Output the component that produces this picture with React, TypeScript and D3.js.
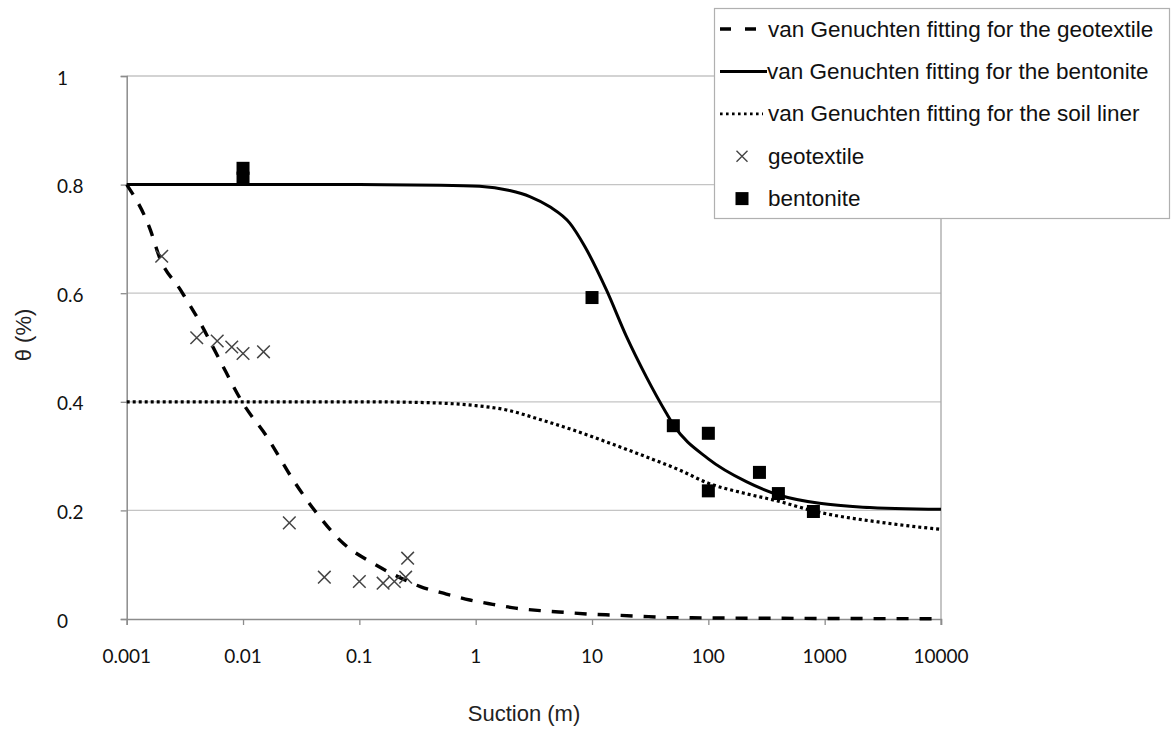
import React, { useEffect, useRef } from "react";
import * as d3 from "d3";

// ---- data ----
const xTicks = [0.001, 0.01, 0.1, 1, 10, 100, 1000, 10000];
const xTickLabels = ["0.001", "0.01", "0.1", "1", "10", "100", "1000", "10000"];
const yTicks = [0, 0.2, 0.4, 0.6, 0.8, 1];
const yTickLabels = ["0", "0.2", "0.4", "0.6", "0.8", "1"];

// geotextile measurements (x markers)
const geoX = [0.002, 0.004, 0.006, 0.008, 0.01, 0.015, 0.025, 0.05, 0.1, 0.16, 0.2, 0.25, 0.26];
const geoY = [0.668, 0.518, 0.512, 0.501, 0.489, 0.492, 0.177, 0.077, 0.069, 0.066, 0.069, 0.077, 0.112];

// bentonite measurements (squares)
const benX = [0.01, 0.01, 10, 50, 100, 100, 275, 400, 800];
const benY = [0.83, 0.812, 0.592, 0.356, 0.342, 0.236, 0.27, 0.231, 0.198];

// van Genuchten fitting curves
const fitGeoX = [0.001, 0.0016, 0.0019, 0.0029, 0.0043, 0.0063, 0.01, 0.016, 0.027, 0.043, 0.073, 0.13, 0.21, 0.33, 0.56, 0.89, 1.4, 2.2, 3.8, 6, 9.5, 16, 26, 44, 100, 1000, 10000];
const fitGeoY = [0.8, 0.716, 0.668, 0.606, 0.545, 0.477, 0.397, 0.336, 0.256, 0.195, 0.139, 0.103, 0.079, 0.06, 0.046, 0.035, 0.027, 0.02, 0.015, 0.012, 0.009, 0.007, 0.005, 0.003, 0.002, 0.001, 0.0005];

const fitBenX = [0.001, 0.01, 0.1, 0.5, 1.08, 1.96, 2.92, 4.34, 6.44, 8.67, 13.3, 19.8, 29.3, 43.6, 50, 100, 212, 410, 904, 2130, 10000];
const fitBenY = [0.8, 0.8, 0.8, 0.799, 0.797, 0.789, 0.778, 0.759, 0.729, 0.686, 0.606, 0.52, 0.446, 0.379, 0.358, 0.295, 0.253, 0.228, 0.213, 0.206, 0.202];

const fitSoilX = [0.001, 0.01, 0.1, 0.3, 1, 1.84, 3.5, 6.9, 15, 29, 57, 100, 200, 400, 800, 3300, 10000];
const fitSoilY = [0.4, 0.4, 0.4, 0.399, 0.393, 0.385, 0.368, 0.348, 0.322, 0.299, 0.274, 0.25, 0.232, 0.217, 0.199, 0.177, 0.165];

const legendLabels = [
  "van Genuchten fitting for the geotextile",
  "van Genuchten fitting for the bentonite",
  "van Genuchten fitting for the soil liner",
  "geotextile",
  "bentonite",
];

const W = 1176;
const H = 731;

export default function App() {
  const ref = useRef<SVGSVGElement | null>(null);

  useEffect(() => {
    const svg = d3.select(ref.current);
    svg.selectAll("*").remove();

    const x = d3.scaleLog().domain([0.001, 10000]).range([126.7, 941]);
    const y = d3.scaleLinear().domain([0, 1]).range([619, 76]);

    const tickFont = "Lato, 'Open Sans', sans-serif";
    const textFont = "'Liberation Sans', Arial, sans-serif";

    // gridlines
    svg
      .append("g")
      .selectAll("line")
      .data(yTicks.filter((t) => t > 0))
      .join("line")
      .attr("x1", x(0.001))
      .attr("x2", x(10000))
      .attr("y1", (d) => y(d))
      .attr("y2", (d) => y(d))
      .attr("stroke", "#c4c4c4")
      .attr("stroke-width", 1.3);

    // right border
    svg
      .append("line")
      .attr("x1", x(10000))
      .attr("x2", x(10000))
      .attr("y1", y(1))
      .attr("y2", y(0) + 6)
      .attr("stroke", "#a6a6a6")
      .attr("stroke-width", 1.3);

    // y axis
    const yAxis = d3
      .axisLeft(y)
      .tickValues(yTicks)
      .tickSize(6)
      .tickFormat(() => "");
    const gy = svg.append("g").attr("transform", `translate(${x(0.001)},0)`).call(yAxis);
    gy.select(".domain").attr("stroke", "#8c8c8c").attr("stroke-width", 1.5);
    gy.selectAll(".tick line").attr("stroke", "#8c8c8c").attr("stroke-width", 1.3);

    svg
      .append("g")
      .selectAll("text")
      .data(yTicks)
      .join("text")
      .attr("x", 57)
      .attr("y", (d) => y(d) + 1)
      .attr("dominant-baseline", "central")
      .attr("font-family", tickFont)
      .attr("font-size", 19)
      .attr("fill", "#111")
      .text((_, i) => yTickLabels[i]);

    // x axis
    const xAxis = d3
      .axisBottom(x)
      .tickValues(xTicks)
      .tickSize(6)
      .tickFormat(() => "");
    const gx = svg.append("g").attr("transform", `translate(0,${y(0)})`).call(xAxis);
    gx.select(".domain").attr("stroke", "#8c8c8c").attr("stroke-width", 1.5);
    gx.selectAll(".tick line").attr("stroke", "#8c8c8c").attr("stroke-width", 1.3);

    svg
      .append("g")
      .selectAll("text")
      .data(xTicks)
      .join("text")
      .attr("x", (d) => x(d))
      .attr("y", 655)
      .attr("text-anchor", "middle")
      .attr("dominant-baseline", "central")
      .attr("font-family", tickFont)
      .attr("font-size", 19)
      .attr("fill", "#111")
      .text((_, i) => xTickLabels[i]);

    // axis titles
    svg
      .append("text")
      .attr("x", 524)
      .attr("y", 721)
      .attr("text-anchor", "middle")
      .attr("font-family", textFont)
      .attr("font-size", 22)
      .attr("fill", "#222")
      .text("Suction (m)");

    svg
      .append("text")
      .attr("transform", "translate(31,335) rotate(-90)")
      .attr("text-anchor", "middle")
      .attr("font-family", textFont)
      .attr("font-size", 22)
      .attr("fill", "#222")
      .text("θ (%)");

    // curves
    const line = d3
      .line<[number, number]>()
      .x((d) => x(d[0]))
      .y((d) => y(d[1]))
      .curve(d3.curveMonotoneX);

    const zip = (a: number[], b: number[]) => a.map((v, i) => [v, b[i]] as [number, number]);

    svg
      .append("path")
      .attr("d", line(zip(fitSoilX, fitSoilY)))
      .attr("fill", "none")
      .attr("stroke", "#000")
      .attr("stroke-width", 3.2)
      .attr("stroke-dasharray", "3,3");

    svg
      .append("path")
      .attr("d", line(zip(fitBenX, fitBenY)))
      .attr("fill", "none")
      .attr("stroke", "#000")
      .attr("stroke-width", 3);

    svg
      .append("path")
      .attr("d", line(zip(fitGeoX, fitGeoY)))
      .attr("fill", "none")
      .attr("stroke", "#000")
      .attr("stroke-width", 3.4)
      .attr("stroke-dasharray", "12,11");

    // markers
    const xMark = (cx: number, cy: number, r: number) =>
      `M${cx - r},${cy - r}L${cx + r},${cy + r}M${cx - r},${cy + r}L${cx + r},${cy - r}`;

    svg
      .append("g")
      .selectAll("path")
      .data(zip(geoX, geoY))
      .join("path")
      .attr("d", (d) => xMark(x(d[0]), y(d[1]), 6.3))
      .attr("stroke", "#444")
      .attr("stroke-width", 1.5)
      .attr("fill", "none");

    const sq = 13;
    svg
      .append("g")
      .selectAll("rect")
      .data(zip(benX, benY))
      .join("rect")
      .attr("x", (d) => x(d[0]) - sq / 2)
      .attr("y", (d) => y(d[1]) - sq / 2)
      .attr("width", sq)
      .attr("height", sq)
      .attr("fill", "#000");

    // legend
    const lg = svg.append("g");
    lg.append("rect")
      .attr("x", 714.5)
      .attr("y", 8.5)
      .attr("width", 455)
      .attr("height", 210)
      .attr("fill", "#fff")
      .attr("stroke", "#b0b0b0")
      .attr("stroke-width", 1.2);

    const rowY = (i: number) => 29 + i * 42.4;

    lg.append("line")
      .attr("x1", 720).attr("x2", 762)
      .attr("y1", rowY(0)).attr("y2", rowY(0))
      .attr("stroke", "#000").attr("stroke-width", 3.4)
      .attr("stroke-dasharray", "11,14");
    lg.append("line")
      .attr("x1", 720).attr("x2", 767)
      .attr("y1", rowY(1)).attr("y2", rowY(1))
      .attr("stroke", "#000").attr("stroke-width", 3);
    lg.append("line")
      .attr("x1", 720).attr("x2", 763)
      .attr("y1", rowY(2)).attr("y2", rowY(2))
      .attr("stroke", "#000").attr("stroke-width", 2.8)
      .attr("stroke-dasharray", "2.6,3.4");
    lg.append("path")
      .attr("d", xMark(742, rowY(3), 5.5))
      .attr("stroke", "#444").attr("stroke-width", 1.4).attr("fill", "none");
    lg.append("rect")
      .attr("x", 742 - 6.5).attr("y", rowY(4) - 6.5)
      .attr("width", 13).attr("height", 13).attr("fill", "#000");

    lg.selectAll("text")
      .data(legendLabels)
      .join("text")
      .attr("x", (_, i) => (i === 1 ? 767 : 768))
      .attr("y", (_, i) => rowY(i))
      .attr("dominant-baseline", "central")
      .attr("font-family", textFont)
      .attr("font-size", 22.5)
      .attr("fill", "#111")
      .text((d) => d);
  }, []);

  return (
    <svg
      ref={ref}
      width={W}
      height={H}
      style={{ position: "absolute", left: 0, top: 0, background: "#fff" }}
    />
  );
}
